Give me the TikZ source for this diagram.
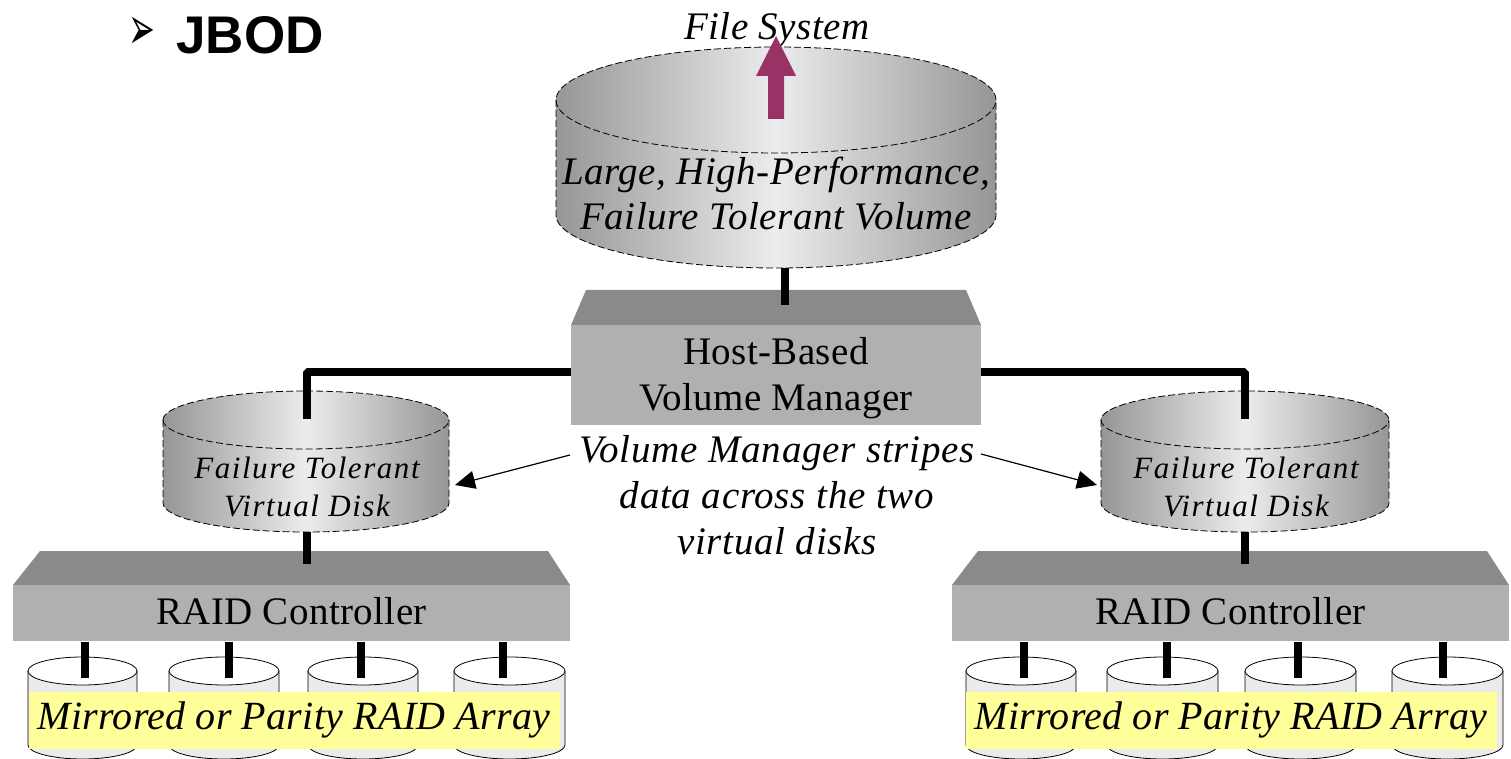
\documentclass[tikz,border=0pt]{standalone}
\usepackage{fontspec}
\usepackage{graphicx}
\setmainfont{Liberation Serif}
\setsansfont{Liberation Sans}
\newfontfamily\symfont{DejaVu Sans}
\newfontfamily\bigserif[ItalicFont={Liberation Serif Italic},ItalicFeatures={LetterSpace=1.4}]{Liberation Serif}
\newfontfamily\stripeserif[ItalicFont={Liberation Serif Italic},ItalicFeatures={LetterSpace=1.9}]{Liberation Serif}
\newfontfamily\arrayserif[ItalicFont={Liberation Serif Italic},ItalicFeatures={LetterSpace=0.7}]{Liberation Serif}
\newfontfamily\tinyserif[ItalicFont={Liberation Serif Italic},ItalicFeatures={LetterSpace=5}]{Liberation Serif}
\newfontfamily\boxserif[LetterSpace=1]{Liberation Serif}
\usetikzlibrary{arrows.meta,positioning}

\definecolor{boxtop}{HTML}{8A8A8A}
\definecolor{boxfront}{HTML}{B0B0B0}
\definecolor{diskedge}{HTML}{969696}
\definecolor{diskmid}{HTML}{ECECEC}
\definecolor{drumside}{HTML}{EBEBEB}
\definecolor{note}{HTML}{FFFF99}
\definecolor{plum}{HTML}{993366}

% l, r, centre y of top rim, centre y of bottom rim, vertical radius
\newcommand{\shadeddisk}[5]{
  \path[draw,dash pattern=on 3.5pt off 1.5pt,thin,left color=diskedge,right color=diskedge,middle color=diskmid]
    (#1,#3) -- (#1,#4) arc[start angle=180,end angle=0,x radius={(#2-#1)/2},y radius=#5]
    -- (#2,#3) arc[start angle=0,end angle=-180,x radius={(#2-#1)/2},y radius=#5] -- cycle;
  \draw[dash pattern=on 3.5pt off 1.5pt,thin] (#1,#3) arc[start angle=180,end angle=0,x radius={(#2-#1)/2},y radius=#5];
}
% l, r
\newcommand{\plaindrum}[2]{
  \path[draw=black,thin,fill=drumside]
    (#1,671) -- (#1,745) arc[start angle=180,end angle=0,x radius={(#2-#1)/2},y radius=14]
    -- (#2,671) -- cycle;
  \path[draw=black,thin,fill=white] ({(#1+#2)/2},671) ellipse[x radius={(#2-#1)/2},y radius=14];
}

\begin{document}
\begin{tikzpicture}[x=0.5pt,y=-0.5pt,
    box/.style={fill=boxfront,inner sep=0pt,align=center,
                font=\fontsize{19.5}{23}\selectfont\boxserif},
    slab/.style={fill=boxtop},
    wire/.style={line width=4.3pt,black,line join=bevel},
    thinarrow/.style={-{Triangle[length=10pt,width=9pt]},semithick,black},
    bigtext/.style={font=\fontsize{19.5}{22.5}\selectfont\bigserif\itshape,align=center},
    smalltext/.style={font=\fontsize{15.5}{19}\selectfont\tinyserif\itshape,align=center},
    arraynote/.style={fill=note,inner sep=0pt,minimum width=265.5pt,minimum height=28.5pt,
                      font=\fontsize{20}{22}\selectfont\arrayserif\itshape}]

  \useasboundingbox (0,0) rectangle (1511,759);

  % disks
  \shadeddisk{556}{996}{100}{215}{53}
  \shadeddisk{163}{449}{420}{503}{29}
  \shadeddisk{1101}{1389}{420}{503}{29}

  \coordinate (bigdiskbot) at (785,268);
  \coordinate (leftdiskin) at (307,419);
  \coordinate (leftdiskbot) at (307,532);
  \coordinate (rightdiskin) at (1245,419);
  \coordinate (rightdiskbot) at (1245,532);
  \coordinate (leftctrlin) at (307,564);
  \coordinate (rightctrlin) at (1245,564);
  \coordinate (hostin) at (785,305);
  \coordinate (hostleft) at (571,372);
  \coordinate (hostright) at (981,372);

  % controllers
  \fill[slab] (586,290) -- (966,290) -- (981,325) -- (571,325) -- cycle;
  \node[box,minimum width=205pt,minimum height=50pt] (host) at (776,375) {};
  \node[box,fill=none] (hostlabel) at (776,378) {Host-Based\\Volume Manager};
  \fill[slab] (40,551) -- (548,551) -- (570,585) -- (13,585) -- cycle;
  \node[box,minimum width=278.5pt,minimum height=28pt] (leftctrl) at (291.5,613) {\raisebox{2.5pt}{RAID Controller}};
  \fill[slab] (978,551) -- (1487,551) -- (1509,585) -- (952,585) -- cycle;
  \node[box,minimum width=278.5pt,minimum height=28pt] (rightctrl) at (1230.5,613) {\raisebox{2.5pt}{RAID Controller}};

  % drums
  \foreach \l/\r in {28/137,169/279,308/418,454/565,966/1076,1107/1218,1245/1356,1392/1503}
    \plaindrum{\l}{\r};

  \foreach \x in {85,229,361,503,1024,1167,1298,1443}
    \draw[wire] (\x,642) -- (\x,678);

  % wires
  \path[wire] (bigdiskbot) edge (hostin);
  \path[wire] (leftdiskbot) edge (leftctrlin);
  \path[wire] (rightdiskbot) edge (rightctrlin);
  \draw[wire] (leftdiskin) -- (leftdiskin |- hostleft) -- (hostleft);
  \draw[wire] (rightdiskin) -- (rightdiskin |- hostright) -- (hostright);

  % labels
  \node[bigtext] (fs) at (777,30) {File System};
  \node[bigtext] (bigdisk) at (776,194) {Large, High-Performance,\\Failure Tolerant Volume};
  \node[smalltext] (leftdisk) at (307,487) {Failure Tolerant\\Virtual Disk};
  \node[smalltext] (rightdisk) at (1246,487) {Failure Tolerant\\Virtual Disk};
  \node[font=\fontsize{19.5}{23}\selectfont\stripeserif\itshape,align=center] (stripes) at (777,495)
    {Volume Manager stripes\\data across the two\\virtual disks};

  \node[arraynote] (leftarray) at (294,720) {Mirrored or Parity RAID Array};
  \node[arraynote] (rightarray) at (1231,720) {Mirrored or Parity RAID Array};

  \coordinate (stripesleft) at (570,455);
  \coordinate (stripesright) at (981,454);
  \coordinate (leftdiskedge) at (455,485);
  \coordinate (rightdiskedge) at (1097,485);
  \path[thinarrow] (stripesleft) edge (leftdiskedge);
  \path[thinarrow] (stripesright) edge (rightdiskedge);

  % arrow to file system
  \fill[plum] (776,36) -- (796,76) -- (784,76) -- (784,119) -- (768,119) -- (768,76) -- (756,76) -- cycle;

  % heading
  \node[font=\fontsize{26.5}{30}\selectfont\sffamily\bfseries,anchor=west,inner sep=0pt] (title) at (176,35) {JBOD};
  \node[font=\fontsize{16}{16}\selectfont\symfont,left=10pt of title.west,inner sep=0pt,yshift=1pt] (bullet) {\scalebox{1}[1.9]{➢}};
\end{tikzpicture}
\end{document}
